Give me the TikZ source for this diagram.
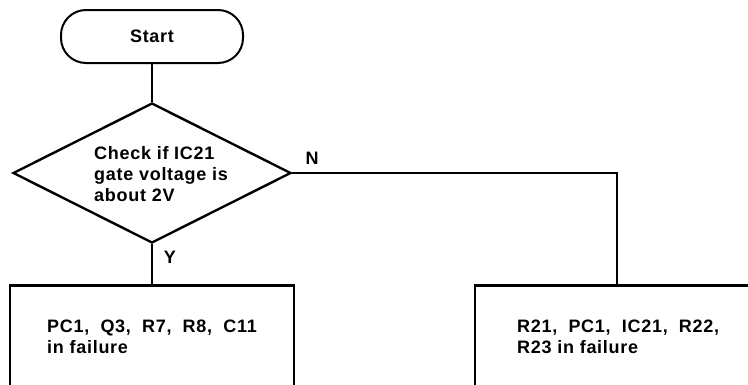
\documentclass[tikz,border=0pt]{standalone}
\usepackage{fontspec}
\setmainfont{Liberation Sans}[LetterSpace=4]
\usetikzlibrary{shapes.geometric}
\newcommand\csp{,\hspace{0.62em}}
\begin{document}
\begin{tikzpicture}[x=1pt,y=-1pt,
  every node/.style={font=\bfseries\fontsize{18}{21}\selectfont, text=black},
  terminal/.style={draw, line width=2pt, rounded corners=25pt, minimum width=182pt, minimum height=53pt, inner sep=0pt},
  decision/.style={draw, diamond, line width=2.4pt, minimum width=278pt, minimum height=140pt, inner sep=0pt},
  procbox/.style={draw, line width=2.8pt, minimum width=284pt, minimum height=160pt, inner sep=0pt, anchor=north},
  conn/.style={line width=1.4pt},
  txt/.style={align=left, anchor=west, inner sep=0pt},
  lbl/.style={inner sep=0pt}]
\useasboundingbox (0,0) rectangle (748,384);
\clip (0,0) rectangle (748,384);
\node[terminal] (start) at (152,36.5) {Start};
\node[decision] (dec) at (152,173) {};
\node[txt] (dtext) at (94,174) {Check if IC21\\gate voltage is\\about 2V};
\node[procbox] (b1) at (152,284) {};
\node[procbox] (b2) at (617,284) {};
\node[txt] (t1) at (47,337) {PC1\csp Q3\csp R7\csp R8\csp C11\\in failure};
\node[txt] (t2) at (517,337) {R21\csp PC1\csp IC21\csp R22,\\R23 in failure};
\node[lbl] (ylab) at (170,257) {Y};
\node[lbl] (nlab) at (312,158) {N};
\draw[conn] (start.south) -- (dec.north);
\draw[conn] (dec.south) -- (b1.north);
\draw[conn] (dec.east) -| (b2.north);
\end{tikzpicture}
\end{document}
